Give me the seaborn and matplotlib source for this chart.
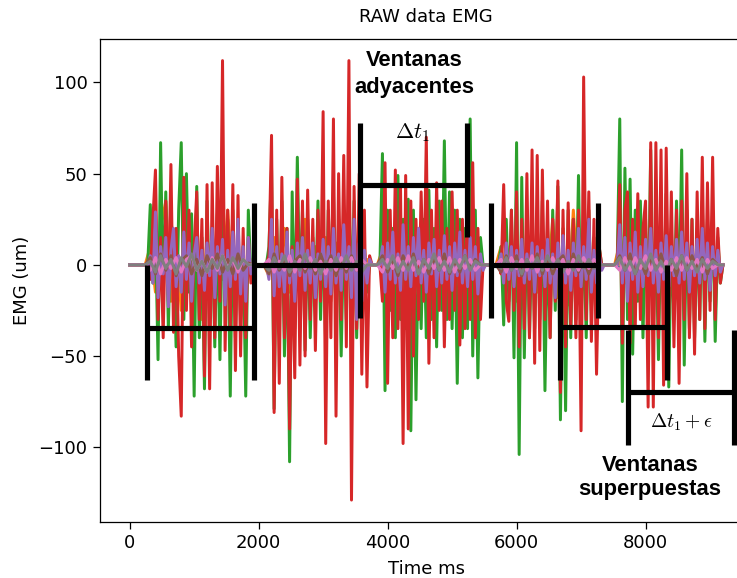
import matplotlib
matplotlib.use("Agg")
import matplotlib.pyplot as plt
import numpy as np
import pandas as pd
import seaborn as sns

plt.rcParams["mathtext.fontset"] = "cm"
plt.rcParams["xtick.labelsize"] = 11.5
plt.rcParams["ytick.labelsize"] = 11.5
plt.rcParams["axes.labelsize"] = 11.5
plt.rcParams["xtick.major.size"] = 4.5
plt.rcParams["ytick.major.size"] = 4.5

# start of each muscle burst (ms); signals rest at 0 between bursts
burst_start = [320, 2160, 3920, 5760, 7600]

# dense channels: 40 samples per burst, 40 ms apart
red = [
    -8, 25, 52, -30, 15, -40, 35, -20, 55, -37, 20, -50, -83, 48, -25, 30, -45, 10, 40, -30,
    25, -61, 44, -68, 45, -40, 54, -20, 112, -47, 30, -35, 44, -58, 38, -50, 20, -40, 15, -10,
    5, 71, -81, 30, -65, 48, -40, 20, -90, 10, -62, 47, -55, 35, -50, 41, -30, 25, -47, 30,
    -20, 84, -98, 35, -40, 80, -83, 50, -30, 60, -45, 112, -129, 43, -35, 50, -60, 30, -67, 5,
    -20, 56, -65, 30, -40, 52, -35, 43, -98, 49, -90, 35, -50, 25, -30, 40, -20, 70, -54, 30,
    -40, 45, -25, 35, -45, 20, -30, 40, -25, 30, -44, 25, -35, 50, -30, 56, -40, 20, -30, 0,
    -5, 44, -20, -31, 30, -25, 40, -45, 25, -35, 50, -40, 63, -54, 60, -47, 52, -30, 35, -40,
    25, -20, 46, -70, 30, -45, 34, -35, 25, -40, 30, -91, 103, -30, 40, -42, 25, -60, 10, 0,
    44, -43, 30, 40, -43, 25, -35, 39, -30, 20, 35, -78, 67, -78, 67, -40, 63, -66, 64, -30,
    40, -45, 30, -65, 35, -30, 50, -40, 25, -49, 40, -30, 59, -35, 45, -25, 59, -30, 20, -10,
]
green = [
    33, -10, 20, -52, 67, -20, 40, -35, 25, 10, -45, 30, 67, -30, 50, -15, 28, -72, 43, -40,
    15, -68, 35, -25, 20, -45, 28, -52, 30, -20, 25, -72, 30, -40, 20, -30, 10, -72, 30, -5,
    10, 53, -79, 25, -30, 35, -50, 20, -108, 40, -35, 59, -20, 30, -47, 25, -40, 15, -25, 35,
    -30, 20, -45, 30, -15, 40, -35, 25, -50, 20, -30, 45, -25, 35, -40, 20, -30, 10, -15, 0,
    61, -69, 30, -25, 20, -40, 49, -30, 25, -35, 36, -91, 30, -74, 20, -35, 25, -40, 41, -30,
    20, -45, 35, -25, 68, -30, 40, -35, 30, -65, 25, -40, 20, -35, 80, -50, 30, -62, 15, 0,
    10, -33, 25, -20, 30, -51, 67, -104, 48, -51, 30, -40, 20, -35, 25, -30, 35, -69, 20, -40,
    30, -25, 43, -85, 20, -80, 30, -40, 25, -30, 49, -35, 20, -40, 30, -25, 15, -20, 10, 0,
    80, -75, 53, -30, 47, -49, 30, -20, 35, -40, 25, -30, 63, -35, 20, -52, 30, -25, 39, -67,
    20, -30, 35, -25, 63, -55, 30, -35, 25, -40, 20, -30, 35, -42, 25, -20, 30, -42, 15, -10,
]
purple = [
    5, -10, 29, -18, 10, -5, 15, -23, 8, 20, -12, 5, -15, 18, -8, 12, -20, 6, 15, -10,
    8, -14, 12, -6, 20, -18, 10, -5, 14, -22, 8, -12, 18, -8, 25, -16, 10, -20, 15, -5,
    -8, 25, -17, 10, -12, 6, -15, 18, -10, 8, -20, 12, -6, 15, -14, 8, -10, 12, -18, 6,
    -8, 14, -12, 10, -16, 20, -10, 6, -14, 22, -8, 10, -18, 25, -30, 12, -20, 8, -10, 3,
    10, -15, 12, -8, 18, -10, 6, -14, 22, -8, 10, -12, 15, -6, 20, -10, 8, -15, 12, -5,
    14, -12, 8, -10, 16, -8, 10, -14, 12, -6, 18, -10, 8, -12, 15, -8, 10, -16, 6, -3,
    6, -10, 12, -8, 10, -12, 8, -6, 14, -10, 6, -8, 12, -15, 10, -6, 8, -12, 14, -10,
    6, -18, 12, -8, 16, -10, 8, -14, 12, -6, 20, -12, 10, -8, 25, -15, 8, -10, 6, -3,
    22, -10, 15, -20, 12, -8, 18, -15, 10, -12, 14, -6, 20, -10, 8, -15, 12, -8, 16, -12,
    10, -6, 14, -10, 18, -8, 12, -15, 10, -6, 14, -10, 20, -8, 12, -14, 10, -6, 8, -4,
]

# smaller channels: 20 samples per burst, 80 ms apart
orange = [
    10, -15, 20, 35, -20, 12, -25, 18, -10, 25, -30, 15, -12, 20, -8, 30, -15, 10, -20, 5,
    -6, 15, -10, 20, -15, 8, -12, 25, -18, 10, -8, 15, -20, 12, -10, 18, -6, 10, -8, 3,
    8, -12, 15, -10, 20, -8, 12, -15, 10, -6, 14, -10, 8, -12, 16, -8, 10, -12, 6, -3,
    10, -8, 15, -20, 12, -10, 20, -15, 8, -12, 25, -18, 10, -22, 30, -15, 12, -8, 6, -2,
    12, -10, 15, -8, 10, -12, 8, -6, 14, -10, 12, -8, 10, -6, 8, -10, 12, -6, 5, -2,
]
blue = [
    1, -2, 3, -1, 2, -3, 1, 2, -2, 1, -1, 3, -2, 2, -1, 1, -3, 2, -1, 0,
    -1, 2, -3, 1, 2, -2, 1, -1, 3, -2, 1, 2, -1, -2, 1, 3, -2, 1, -1, 0,
    2, -1, 1, -3, 2, -1, 3, -2, 1, -1, 2, -2, 1, 3, -1, -2, 2, -1, 1, 0,
    1, -3, 2, -1, 1, 2, -2, 1, -1, 3, -2, 1, -1, 2, -3, 1, 2, -1, 1, 0,
    -2, 1, 3, -1, 2, -2, 1, -1, 2, -3, 1, 2, -2, 1, -1, 3, -1, 2, -1, 0,
]
brown = [
    4, -5, 6, -3, 5, -6, 2, 5, -5, 3, -6, 5, -2, 6, -4, 3, -5, 6, -3, 1,
    -5, 6, -3, 4, -6, 2, 5, -4, 3, -5, 6, -2, 5, -6, 3, -4, 5, -3, 2, 0,
    5, -4, 3, -6, 5, -2, 6, -5, 3, -5, 4, -3, 6, -5, 2, -4, 5, -2, 3, 0,
    -4, 5, -3, 5, -6, 3, -2, 6, -5, 4, -5, 2, 5, -3, 6, -4, 3, -5, 2, 0,
    5, -3, 6, -5, 2, -5, 4, -2, 6, -4, 3, -6, 5, -3, 5, -2, 4, -5, 3, 0,
]
pink = [
    -3, 4, -5, 3, -2, 4, -4, 3, 5, -3, 2, -4, 4, -3, 5, -2, 3, -4, 3, 0,
    3, -4, 2, -3, 5, -4, 3, -2, 4, -3, 2, -5, 3, -3, 4, -2, 4, -3, 3, 0,
    -4, 3, -2, 4, -3, 5, -3, 2, -4, 3, -2, 4, -3, 4, -4, 3, -2, 3, -3, 0,
    3, -4, 4, -2, 3, -3, 5, -4, 2, -3, 4, -2, 3, -5, 3, -3, 4, -2, 3, 0,
    -3, 4, -3, 4, -2, 5, -3, 3, -4, 2, -3, 4, -3, 4, -2, 3, -4, 3, -2, 0,
]
gray = [
    2, -4, 5, -2, 3, -5, 4, -1, 6, -3, 2, -4, 3, -2, 5, -3, 4, -2, 3, 0,
    -3, 4, -2, 5, -4, 2, -3, 6, -2, 3, -5, 2, -3, 4, -2, 5, -3, 2, -4, 0,
    3, -2, 5, -4, 2, -3, 4, -5, 3, -2, 6, -3, 2, -4, 3, -2, 5, -3, 2, 0,
    -2, 4, -3, 2, -5, 3, -2, 4, -3, 5, -2, 3, -4, 2, -3, 5, -2, 3, -2, 0,
    4, -3, 2, -5, 3, -2, 6, -3, 2, -4, 3, -2, 5, -3, 2, -4, 3, -2, 2, 0,
]

channels = [
    ("ch1", blue, 80, "tab:blue"),
    ("ch2", orange, 80, "tab:orange"),
    ("ch3", green, 40, "tab:green"),
    ("ch4", red, 40, "tab:red"),
    ("ch5", purple, 40, "tab:purple"),
    ("ch6", brown, 80, "tab:brown"),
    ("ch7", pink, 80, "tab:pink"),
    ("ch8", gray, 80, "tab:gray"),
]


def place(values, step):
    # put the burst samples on the time grid, zero at rest
    t = np.arange(0, 9201, step)
    y = np.zeros(len(t))
    n = len(values) // len(burst_start)
    for i, s in enumerate(burst_start):
        j = s // step
        y[j:j + n] = values[i * n:(i + 1) * n]
    return t, y


frames = []
for name, vals, step, _ in channels:
    t, y = place(vals, step)
    frames.append(pd.DataFrame({"t": t, "emg": y, "ch": name}))
df = pd.concat(frames, ignore_index=True)
palette = {name: c for name, _, _, c in channels}

fig = plt.figure(figsize=(737 / 113, 578 / 113), dpi=113)
ax = fig.add_axes([100 / 737, 0.097, 652.6 / 737, 0.836])

sns.lineplot(data=df, x="t", y="emg", hue="ch", hue_order=[c[0] for c in channels],
             palette=palette, estimator=None, sort=False, legend=False, lw=1.9, ax=ax)

ax.set_xlim(-460, 9660)
ax.set_ylim(-141, 124)
ax.set_title("RAW data EMG", fontsize=11.5, pad=10.5)
ax.set_xlabel("Time ms", labelpad=5)
ax.set_ylabel("EMG (um)", labelpad=5)

# window brackets drawn over the signal
brackets = [
    ([271, 271], [0, -63]), ([271, 1930], [-34.5, -34.5]), ([1930, 1930], [34, -63]),
    ([1930, 3574], [0, 0]), ([3574, 3574], [78, -29]), ([3574, 5233], [44, 44]),
    ([5233, 5233], [78, 15]),
    ([5605, 5605], [34, -29]), ([5605, 7264], [0, 0]), ([7264, 7264], [34, -29]),
    ([6674, 6674], [1, -63]), ([6674, 8333], [-34, -34]), ([8333, 8333], [0, -63]),
    ([7729, 7729], [-35.6, -98.6]), ([7729, 9372], [-69.6, -69.6]), ([9372, 9372], [-35.6, -98.6]),
]
for bx, by in brackets:
    ax.plot(bx, by, color="black", lw=3.3, solid_capstyle="butt", clip_on=False)

ax.text(4411, 104.7, "Ventanas\nadyacentes", ha="center", va="center", fontsize=14,
        fontweight="bold", family="Liberation Sans", linespacing=1.4)
ax.text(4386, 72.3, r"$\Delta t_1$", ha="center", va="center", fontsize=14)
ax.text(8551, -86.6, r"$\Delta t_1 + \epsilon$", ha="center", va="center", fontsize=12.5)
ax.text(8070, -116.7, "Ventanas\nsuperpuestas", ha="center", va="center", fontsize=14,
        fontweight="bold", family="Liberation Sans", linespacing=1.15)

fig.savefig("out.png", dpi=113)
